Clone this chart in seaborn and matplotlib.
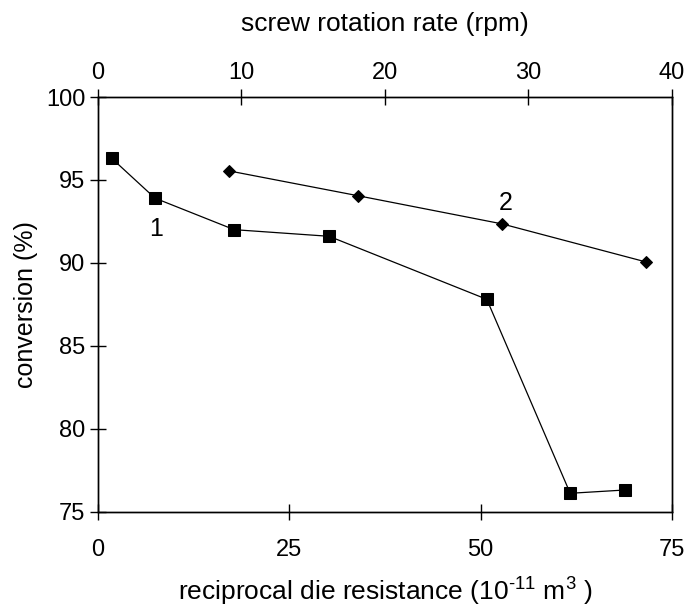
import matplotlib
matplotlib.use("Agg")
import matplotlib.pyplot as plt
import seaborn as sns
import pandas as pd

# Series 1: conversion vs reciprocal die resistance (bottom axis)
die_resistance = [1.8, 7.45, 17.8, 30.2, 50.8, 61.7, 68.9]
conversion_1 = [96.3, 93.9, 92.0, 91.6, 87.8, 76.1, 76.3]

# Series 2: conversion vs screw rotation rate (top axis)
rotation_rate = [9.1, 18.1, 28.15, 38.2]
conversion_2 = [95.55, 94.05, 92.35, 90.05]

bottom_ticks = [0, 25, 50, 75]
top_ticks = [0, 10, 20, 30, 40]
y_ticks = [75, 80, 85, 90, 95, 100]

sns.set_style("ticks")
plt.rcParams['font.family'] = ['Liberation Sans', 'DejaVu Sans']
plt.rcParams['mathtext.fontset'] = 'custom'
plt.rcParams['mathtext.rm'] = 'Liberation Sans'
plt.rcParams['text.color'] = 'black'
plt.rcParams['axes.labelcolor'] = 'black'
plt.rcParams['xtick.color'] = 'black'
plt.rcParams['ytick.color'] = 'black'
plt.rcParams['axes.edgecolor'] = 'black'

fig = plt.figure(figsize=(6.91, 6.11), dpi=100)
ax = fig.add_axes([0.1418, 0.1628, 0.9725 - 0.1418, 0.8412 - 0.1628])

df1 = pd.DataFrame({"x": die_resistance, "y": conversion_1})
df2 = pd.DataFrame({"x": rotation_rate, "y": conversion_2})

sns.lineplot(data=df1, x="x", y="y", ax=ax, color="black", marker="s",
             markersize=8, linewidth=0.9, markeredgecolor="black")
ax.set_xlim(0, 75)
ax.set_ylim(75, 100)
ax.set_xticks(bottom_ticks)
ax.set_yticks(y_ticks)
ax.set_xlabel("reciprocal die resistance (10$^{\u2010 11}$ m$^{3}$ )", fontsize=19, labelpad=10)
ax.set_ylabel("conversion (%)", fontsize=18, labelpad=6)
ax.tick_params(axis="both", direction="inout", length=11, width=1, labelsize=17, color="black")
ax.tick_params(axis="x", pad=14)

ax2 = ax.twiny()
sns.lineplot(data=df2, x="x", y="y", ax=ax2, color="black", marker="D",
             markersize=6, linewidth=0.9, markeredgecolor="black")
ax2.set_xlim(0, 40)
ax2.set_ylim(75, 100)
ax2.set_xticks(top_ticks)
ax2.set_xlabel("screw rotation rate (rpm)", fontsize=19, labelpad=22)
ax2.tick_params(axis="x", direction="inout", length=11, width=1, labelsize=17, pad=4)

for a in (ax, ax2):
    for s in a.spines.values():
        s.set_visible(True)
        s.set_color("black")
        s.set_linewidth(1)

ax.text(7.6, 92.05, "1", fontsize=18, ha="center", va="center")
ax.text(28.4, 93.6, "2", fontsize=18, ha="center", va="center", transform=ax2.transData)

fig.savefig("out.png", dpi=100)
